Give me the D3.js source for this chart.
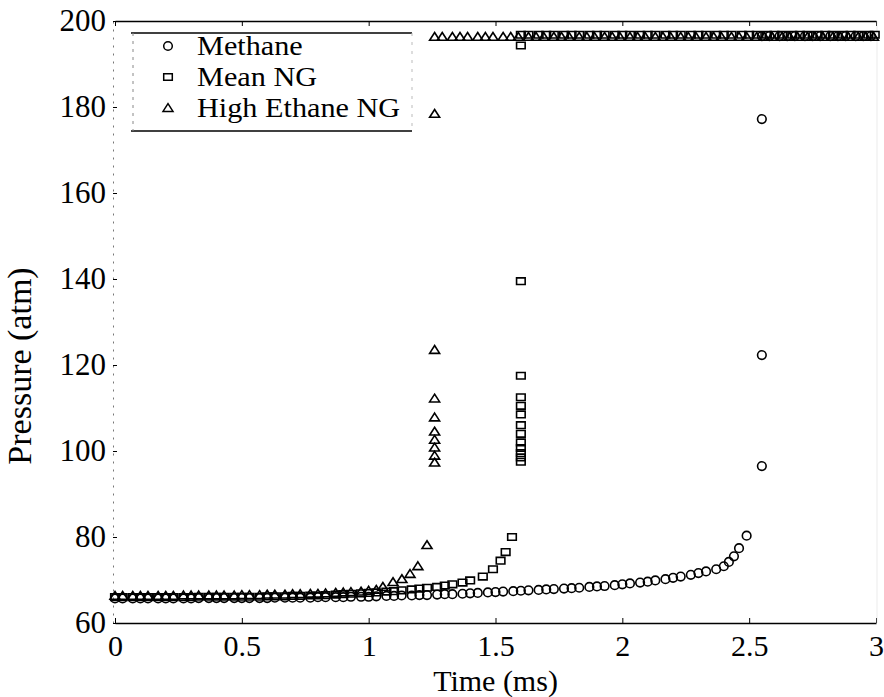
<!DOCTYPE html>
<html>
<head>
<meta charset="utf-8">
<script src="https://cdn.jsdelivr.net/npm/d3@7"></script>
<style>
  body { margin: 0; background: #fff; }
  #chart-container { width: 884px; height: 697px; }
  svg text { font-family: "Liberation Serif", "Times New Roman", serif; fill: #000; }
</style>
</head>
<body>
<div id="chart-container"></div>
<script>
const width = 884;
const height = 697;

// tick labels
const xTicks = [0, 0.5, 1, 1.5, 2, 2.5, 3];
const xTickLabels = ["0", "0.5", "1", "1.5", "2", "2.5", "3"];
const yTicks = [60, 80, 100, 120, 140, 160, 180, 200];

// Methane (circles)
const methaneTime = [
  0.00, 0.03, 0.07, 0.10, 0.13, 0.17, 0.20, 0.23, 0.27, 0.30, 0.33, 0.37, 0.40, 0.43, 0.47, 0.50,
  0.53, 0.57, 0.60, 0.63, 0.67, 0.70, 0.73, 0.77, 0.80, 0.83, 0.87, 0.90, 0.93, 0.97, 1.00,
  1.03, 1.07, 1.10, 1.13, 1.17, 1.20, 1.23, 1.27, 1.30, 1.33, 1.37, 1.40, 1.43, 1.47, 1.50,
  1.53, 1.57, 1.60, 1.63, 1.67, 1.70, 1.73, 1.77, 1.80, 1.83, 1.87, 1.90, 1.93, 1.97, 2.00,
  2.03, 2.07, 2.10, 2.13, 2.17, 2.20, 2.23, 2.27, 2.30, 2.33, 2.37,
  2.40, 2.42, 2.44, 2.46, 2.49,
  2.55, 2.55, 2.55,
  2.55, 2.58, 2.62, 2.65, 2.68, 2.72, 2.75, 2.78, 2.82, 2.85, 2.88, 2.92, 2.95, 2.98,
];
const methanePressure = [
  65.7, 65.7, 65.7, 65.7, 65.7, 65.7, 65.7, 65.7, 65.7, 65.7, 65.8, 65.8, 65.8, 65.8, 65.8, 65.8,
  65.8, 65.8, 65.8, 65.9, 65.9, 65.9, 65.9, 65.9, 66.0, 66.0, 66.0, 66.0, 66.1, 66.1, 66.1,
  66.2, 66.3, 66.3, 66.4, 66.4, 66.5, 66.5, 66.6, 66.7, 66.7, 66.8, 66.9, 67.0, 67.1, 67.2,
  67.3, 67.4, 67.5, 67.6, 67.7, 67.8, 67.9, 68.0, 68.1, 68.2, 68.4, 68.5, 68.6, 68.8, 69.0,
  69.2, 69.4, 69.6, 69.9, 70.2, 70.5, 70.8, 71.2, 71.6, 72.0, 72.5,
  73.2, 74.2, 75.5, 77.4, 80.3,
  96.5, 122.3, 177.2,
  196.5, 196.5, 196.5, 196.5, 196.5, 196.5, 196.5, 196.5, 196.5, 196.5, 196.5, 196.5, 196.5, 196.5,
];

// Mean NG (squares)
const meanTime = [
  0.00, 0.03, 0.07, 0.10, 0.13, 0.17, 0.20, 0.23, 0.27, 0.30, 0.33, 0.37, 0.40, 0.43, 0.47, 0.50,
  0.53, 0.57, 0.60, 0.63, 0.67, 0.70, 0.73, 0.77, 0.80, 0.83, 0.87, 0.90, 0.93, 0.97, 1.00,
  1.03, 1.07, 1.10, 1.13, 1.17, 1.20, 1.23, 1.27, 1.30, 1.33, 1.37, 1.40,
  1.45, 1.49, 1.52, 1.54, 1.565,
  1.60, 1.60, 1.60, 1.60, 1.60, 1.60, 1.60, 1.60, 1.60, 1.60, 1.60, 1.60, 1.60,
  1.60, 1.63, 1.67, 1.70, 1.73, 1.77, 1.80, 1.83, 1.87, 1.90, 1.93, 1.97, 2.00, 2.03, 2.07,
  2.10, 2.13, 2.17, 2.20, 2.23, 2.27, 2.30, 2.33, 2.37, 2.40, 2.43, 2.47, 2.50, 2.53,
  2.57, 2.60, 2.63, 2.67, 2.70, 2.73, 2.77, 2.80, 2.83, 2.87, 2.90, 2.93, 2.97, 2.995,
];
const meanPressure = [
  66.0, 66.0, 66.0, 66.0, 66.0, 66.0, 66.0, 66.0, 66.0, 66.0, 66.1, 66.1, 66.1, 66.1, 66.1, 66.1,
  66.1, 66.1, 66.2, 66.2, 66.2, 66.3, 66.3, 66.4, 66.4, 66.5, 66.6, 66.7, 66.8, 66.9, 67.0,
  67.1, 67.3, 67.4, 67.6, 67.8, 68.0, 68.2, 68.4, 68.7, 69.0, 69.4, 69.9,
  70.8, 72.5, 74.5, 76.5, 80.0,
  97.5, 98.5, 99.5, 100.7, 102.0, 104.0, 106.0, 108.5, 110.5, 112.5, 117.5, 139.5, 194.3,
  196.8, 196.8, 196.8, 196.8, 196.8, 196.8, 196.8, 196.8, 196.8, 196.8, 196.8, 196.8, 196.8, 196.8, 196.8,
  196.8, 196.8, 196.8, 196.8, 196.8, 196.8, 196.8, 196.8, 196.8, 196.8, 196.8, 196.8, 196.8, 196.8,
  196.8, 196.8, 196.8, 196.8, 196.8, 196.8, 196.8, 196.8, 196.8, 196.8, 196.8, 196.8, 196.8, 196.8,
];

// High Ethane NG (triangles)
const ethaneTime = [
  0.00, 0.03, 0.07, 0.10, 0.13, 0.17, 0.20, 0.23, 0.27, 0.30, 0.33, 0.37, 0.40, 0.43, 0.47, 0.50,
  0.53, 0.57, 0.60, 0.63, 0.67, 0.70, 0.73, 0.77, 0.80, 0.83, 0.87, 0.90, 0.93, 0.97, 1.00, 1.03,
  1.056, 1.096, 1.131, 1.163, 1.194, 1.23,
  1.26, 1.26, 1.26, 1.26, 1.26, 1.26, 1.26, 1.26, 1.26,
  1.26, 1.29, 1.33, 1.36, 1.39, 1.43, 1.46, 1.49, 1.53, 1.56, 1.59, 1.63, 1.66, 1.69, 1.73, 1.76, 1.79, 1.83,
  1.86, 1.89, 1.93, 1.96, 1.99, 2.03, 2.06, 2.09, 2.13, 2.16, 2.19, 2.23, 2.26, 2.29, 2.33, 2.36, 2.39, 2.43,
  2.46, 2.49, 2.53, 2.56, 2.59, 2.63, 2.66, 2.69, 2.73, 2.76, 2.79, 2.83, 2.86, 2.89, 2.93, 2.96, 2.99,
];
const ethanePressure = [
  66.3, 66.3, 66.3, 66.3, 66.3, 66.3, 66.3, 66.3, 66.4, 66.4, 66.4, 66.4, 66.4, 66.4, 66.4, 66.5,
  66.5, 66.5, 66.6, 66.6, 66.6, 66.7, 66.7, 66.8, 66.8, 66.9, 67.0, 67.1, 67.2, 67.3, 67.5, 67.7,
  68.4, 69.5, 70.2, 71.4, 73.2, 78.1,
  97.3, 98.9, 100.8, 102.6, 104.5, 107.8, 112.2, 123.5, 178.4,
  196.3, 196.3, 196.3, 196.3, 196.3, 196.3, 196.3, 196.3, 196.3, 196.3, 196.3, 196.3, 196.3, 196.3, 196.3, 196.3, 196.3, 196.3,
  196.3, 196.3, 196.3, 196.3, 196.3, 196.3, 196.3, 196.3, 196.3, 196.3, 196.3, 196.3, 196.3, 196.3, 196.3, 196.3, 196.3, 196.3,
  196.3, 196.3, 196.3, 196.3, 196.3, 196.3, 196.3, 196.3, 196.3, 196.3, 196.3, 196.3, 196.3, 196.3, 196.3, 196.3, 196.3,
];

const seriesNames = ["Methane", "Mean NG", "High Ethane NG"];

const markerPaths = {
  circle: "M-4.3,0A4.3,4.3 0 1,0 4.3,0A4.3,4.3 0 1,0 -4.3,0Z",
  square: "M-4.3,-3.3L4.3,-3.3L4.3,3.3L-4.3,3.3Z",
  triangle: "M0,-4.4L5,3.4L-5,3.4Z",
};

const plot = { left: 115, right: 876, top: 21, bottom: 623 };
const serif = '"Liberation Serif", "Times New Roman", serif';

const x = d3.scaleLinear().domain([0, 3]).range([plot.left, plot.right]);
const y = d3.scaleLinear().domain([60, 200]).range([plot.bottom, plot.top]);

const zip = (times, values) => times.map((t, i) => ({ t: t, p: values[i] }));

const series = [
  { name: seriesNames[0], marker: "circle", data: zip(methaneTime, methanePressure) },
  { name: seriesNames[1], marker: "square", data: zip(meanTime, meanPressure) },
  { name: seriesNames[2], marker: "triangle", data: zip(ethaneTime, ethanePressure) },
];

const svg = d3
  .select("#chart-container")
  .append("svg")
  .attr("width", width)
  .attr("height", height);

// bottom axis
const xAxis = svg
  .append("g")
  .attr("transform", `translate(0,${plot.bottom})`)
  .call(
    d3.axisBottom(x)
      .tickValues(xTicks)
      .tickFormat((d, i) => xTickLabels[i])
      .tickSizeInner(-5)
      .tickSizeOuter(0)
      .tickPadding(12)
  );
xAxis.attr("font-family", serif);
xAxis.selectAll("text").style("font-size", "30px");
xAxis.select(".domain").attr("stroke-width", 1.6);

// top axis
const topAxis = svg
  .append("g")
  .attr("transform", `translate(0,${plot.top})`)
  .call(d3.axisTop(x).tickValues(xTicks).tickFormat("").tickSizeInner(-5).tickSizeOuter(0));
topAxis.select(".domain").attr("stroke-width", 1.6);

// left axis
const yAxis = svg
  .append("g")
  .attr("transform", `translate(${plot.left - 2},0)`)
  .call(
    d3.axisLeft(y)
      .tickValues(yTicks)
      .tickSizeInner(-4)
      .tickSizeOuter(0)
      .tickPadding(7)
  );
yAxis.attr("font-family", serif);
yAxis.selectAll("text").style("font-size", "31px");
yAxis.select(".domain").attr("stroke", "#777").attr("stroke-dasharray", "2,6");

// right edge (barely visible in the scan)
svg
  .append("line")
  .attr("x1", plot.right + 1)
  .attr("x2", plot.right + 1)
  .attr("y1", plot.top)
  .attr("y2", plot.bottom)
  .attr("stroke", "#ddd")
  .attr("stroke-width", 0.6);

// markers
const markerGroup = svg.append("g");
series.forEach((s) => {
  markerGroup
    .append("g")
    .selectAll("path")
    .data(s.data)
    .enter()
    .append("path")
    .attr("transform", (d) => `translate(${x(d.t)},${y(d.p)})`)
    .attr("d", markerPaths[s.marker])
    .attr("fill", "none")
    .attr("stroke", "#000")
    .attr("stroke-width", 1.6);
});

// legend
const legend = svg.append("g").attr("transform", "translate(131,33)");
legend
  .append("rect")
  .attr("width", 281)
  .attr("height", 98)
  .attr("fill", "#fff")
  .attr("stroke", "none");
legend.append("line").attr("x1", 0).attr("x2", 281).attr("y1", 0).attr("y2", 0)
  .attr("stroke", "#000").attr("stroke-width", 1.4);
legend.append("line").attr("x1", 0).attr("x2", 281).attr("y1", 98).attr("y2", 98)
  .attr("stroke", "#000").attr("stroke-width", 1.4);
legend.append("line").attr("x1", 2).attr("x2", 2).attr("y1", 0).attr("y2", 98)
  .attr("stroke", "#888").attr("stroke-dasharray", "3,5");
legend.append("line").attr("x1", 281).attr("x2", 281).attr("y1", 0).attr("y2", 98)
  .attr("stroke", "#bbb").attr("stroke-dasharray", "3,6");

const legendRows = legend
  .selectAll("g.row")
  .data(series)
  .enter()
  .append("g")
  .attr("class", "row")
  .attr("transform", (d, i) => `translate(0,${13 + i * 31})`);

legendRows
  .append("path")
  .attr("transform", "translate(37,0)")
  .attr("d", (d) => markerPaths[d.marker])
  .attr("fill", "none")
  .attr("stroke", "#000")
  .attr("stroke-width", 1.5);

// the scanned legend type is wide and tightly leaded, so narrow size + horizontal stretch
legendRows
  .append("text")
  .attr("transform", "translate(66,9) scale(1.12,1)")
  .style("font-size", "27px")
  .text((d) => d.name);

// axis titles
svg
  .append("text")
  .attr("x", (plot.left + plot.right) / 2)
  .attr("y", 691)
  .attr("text-anchor", "middle")
  .style("font-size", "30px")
  .text("Time (ms)");

svg
  .append("text")
  .attr("transform", `translate(31,${(plot.top + plot.bottom) / 2 + 44}) rotate(-90)`)
  .attr("text-anchor", "middle")
  .style("font-size", "34px")
  .text("Pressure (atm)");
</script>
</body>
</html>
